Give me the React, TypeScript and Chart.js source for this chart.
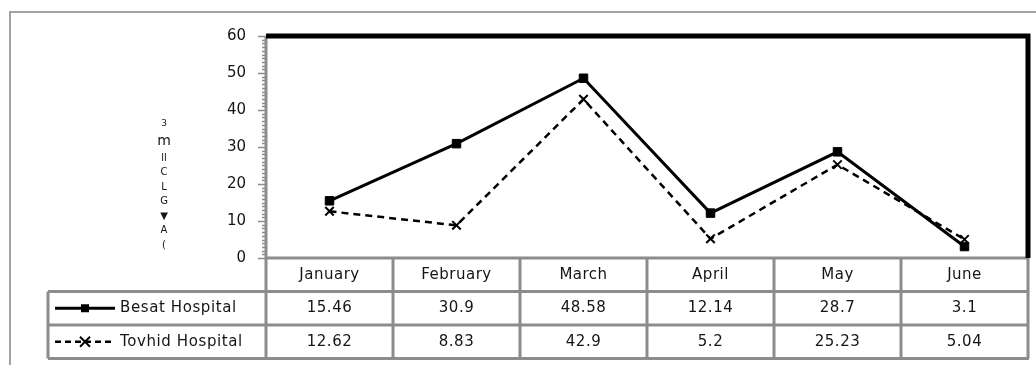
import React, { useEffect, useRef } from "react";
import { Chart, registerables } from "chart.js";

Chart.register(...registerables);

const months = ["January", "February", "March", "April", "May", "June"];
const besatValues = [15.46, 30.9, 48.58, 12.14, 28.7, 3.1];
const tovhidValues = [12.62, 8.83, 42.9, 5.2, 25.23, 5.04];
const seriesNames = ["Besat Hospital", "Tovhid Hospital"];
const yMin = 0;
const yMax = 60;
const yStep = 10;
const yTitleChars = ["3", "m", "ll", "C", "L", "G", "\u25BC", "A", "("];

const FONT = "'DejaVu Sans', sans-serif";
const GRAY = "#8c8c8c";
const TEXT = "#151515";

const tablePlugin = {
  id: "excelTable",
  afterDraw(chart: any) {
    const ctx = chart.ctx as CanvasRenderingContext2D;
    const ca = chart.chartArea;
    const xs = chart.scales.x;
    const ys = chart.scales.y;
    const rowH = 33.5;
    const legendLeft = 48;
    const tableTop = ca.bottom;
    const rows = [tableTop, tableTop + rowH, tableTop + 2 * rowH, tableTop + 3 * rowH];
    const colW = (ca.right - ca.left) / months.length;
    const colEdges = months.map((_, i) => ca.left + i * colW).concat([ca.right]);

    ctx.save();

    // outer frame
    ctx.strokeStyle = "#a3a3a3";
    ctx.lineWidth = 2;
    ctx.strokeRect(10, 12, 1040, 370);

    // table grid
    ctx.strokeStyle = GRAY;
    ctx.lineWidth = 3;
    ctx.beginPath();
    ctx.moveTo(ca.left, rows[0]);
    ctx.lineTo(ca.right + 1, rows[0]);
    for (let r = 1; r < rows.length; r++) {
      ctx.moveTo(legendLeft, rows[r]);
      ctx.lineTo(ca.right + 1, rows[r]);
    }
    ctx.moveTo(legendLeft, rows[1]);
    ctx.lineTo(legendLeft, rows[3]);
    colEdges.forEach((x, i) => {
      if (i === 0) return;
      ctx.moveTo(x, rows[0]);
      ctx.lineTo(x, rows[3]);
    });
    ctx.stroke();

    // y axis line + ticks
    ctx.beginPath();
    ctx.moveTo(ca.left, ca.top);
    ctx.lineTo(ca.left, rows[3] + 1.5);
    ctx.stroke();
    ctx.lineWidth = 1.5;
    ctx.beginPath();
    for (let v = yMin; v <= yMax; v++) {
      const y = Math.round(ys.getPixelForValue(v)) + 0.5;
      const len = v % yStep === 0 ? 8 : 4;
      ctx.moveTo(ca.left - len, y);
      ctx.lineTo(ca.left, y);
    }
    ctx.stroke();

    // thick plot border (top + right)
    ctx.strokeStyle = "#000";
    ctx.lineWidth = 5;
    ctx.beginPath();
    ctx.moveTo(ca.left, ca.top);
    ctx.lineTo(ca.right, ca.top);
    ctx.lineTo(ca.right, ca.bottom);
    ctx.stroke();

    // table text
    ctx.fillStyle = TEXT;
    ctx.font = `15px ${FONT}`;
    ctx.textAlign = "center";
    ctx.textBaseline = "middle";
    (ctx as any).letterSpacing = "0.5px";
    months.forEach((m, i) => {
      const cx = xs.getPixelForValue(i);
      ctx.fillText(m, cx, (rows[0] + rows[1]) / 2);
      ctx.fillText(String(besatValues[i]), cx, (rows[1] + rows[2]) / 2);
      ctx.fillText(String(tovhidValues[i]), cx, (rows[2] + rows[3]) / 2);
    });

    // legend keys
    ctx.textAlign = "left";
    (ctx as any).letterSpacing = "0.6px";
    const keyL = 55;
    const keyR = 115;
    const keyMid = 85;
    const y1 = (rows[1] + rows[2]) / 2;
    const y2 = (rows[2] + rows[3]) / 2;
    ctx.fillText(seriesNames[0], 120, y1);
    ctx.fillText(seriesNames[1], 120, y2);

    ctx.strokeStyle = "#000";
    ctx.lineWidth = 3;
    ctx.beginPath();
    ctx.moveTo(keyL, y1);
    ctx.lineTo(keyR, y1);
    ctx.stroke();
    ctx.fillStyle = "#000";
    ctx.fillRect(keyMid - 4, y1 - 4, 8, 8);

    ctx.lineWidth = 2.5;
    ctx.setLineDash([6, 4]);
    ctx.beginPath();
    ctx.moveTo(keyL, y2);
    ctx.lineTo(keyR, y2);
    ctx.stroke();
    ctx.setLineDash([]);
    ctx.lineWidth = 2;
    ctx.beginPath();
    ctx.moveTo(keyMid - 5, y2 - 5);
    ctx.lineTo(keyMid + 5, y2 + 5);
    ctx.moveTo(keyMid + 5, y2 - 5);
    ctx.lineTo(keyMid - 5, y2 + 5);
    ctx.stroke();

    // garbled stacked y-axis title
    (ctx as any).letterSpacing = "0px";
    ctx.textAlign = "center";
    ctx.fillStyle = TEXT;
    let ty = 124;
    yTitleChars.forEach((ch, i) => {
      ctx.font = i === 0 ? `9px ${FONT}` : i === 1 ? `14px ${FONT}` : `10px ${FONT}`;
      ctx.fillText(ch, 164, ty);
      ty += i === 0 ? 17 : i === 1 ? 17 : 14.5;
    });

    ctx.restore();
  },
};

export default function App() {
  const canvasRef = useRef<HTMLCanvasElement | null>(null);

  useEffect(() => {
    if (!canvasRef.current) return;
    const chart = new Chart(canvasRef.current, {
      type: "line",
      data: {
        labels: months,
        datasets: [
          {
            label: seriesNames[0],
            data: besatValues,
            borderColor: "#000",
            backgroundColor: "#000",
            borderWidth: 3,
            pointStyle: "rect",
            pointRadius: 6,
            pointBorderWidth: 1,
            pointBackgroundColor: "#000",
            pointBorderColor: "#000",
            tension: 0,
          },
          {
            label: seriesNames[1],
            data: tovhidValues,
            borderColor: "#000",
            backgroundColor: "#000",
            borderWidth: 2.5,
            borderDash: [7, 5],
            pointStyle: "crossRot",
            pointRadius: 6,
            pointBorderWidth: 2,
            pointBorderColor: "#000",
            tension: 0,
          },
        ],
      },
      options: {
        responsive: true,
        maintainAspectRatio: false,
        animation: false,
        layout: { padding: { left: 0, top: 36, right: 7, bottom: 107 } },
        plugins: {
          legend: { display: false },
          tooltip: { enabled: false },
          title: { display: false },
        },
        scales: {
          x: {
            type: "category",
            display: false,
            offset: true,
          },
          y: {
            min: yMin,
            max: yMax,
            afterFit: (scale: any) => {
              scale.width = 266;
            },
            grid: { display: false, drawTicks: false },
            border: { display: false },
            ticks: {
              stepSize: yStep,
              padding: 20,
              color: TEXT,
              font: { family: "DejaVu Sans", size: 15 },
            },
          },
        },
      },
      plugins: [tablePlugin],
    });
    return () => chart.destroy();
  }, []);

  return (
    <div style={{ position: "fixed", left: 0, top: 0, width: 1036, height: 365, background: "#fff" }}>
      <canvas ref={canvasRef} />
    </div>
  );
}
